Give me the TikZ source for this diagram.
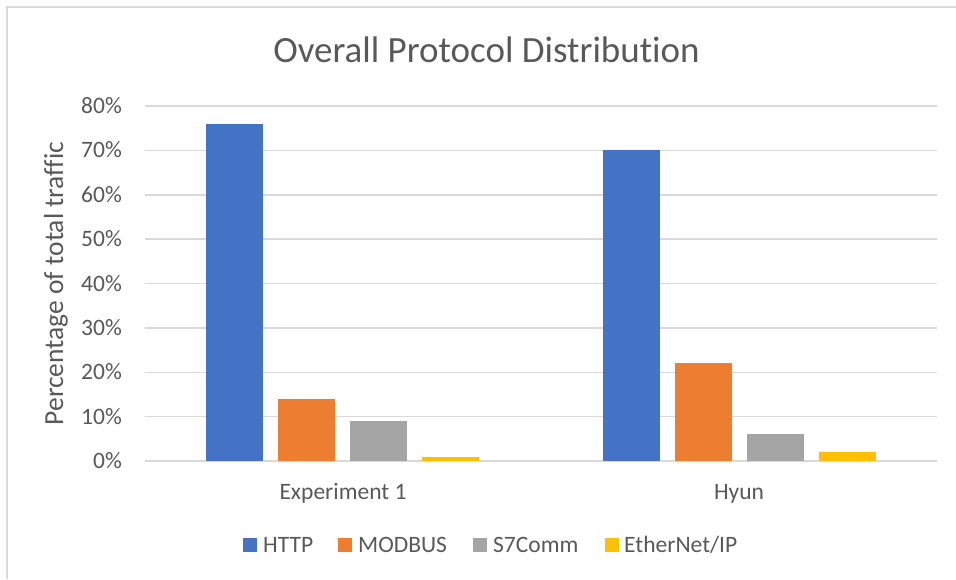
\documentclass[tikz,border=0pt]{standalone}
\usepackage{fontspec}
\setmainfont[RawFeature=-liga]{Carlito}
\definecolor{txtgray}{HTML}{595959}
\definecolor{gridgray}{HTML}{D9D9D9}
\definecolor{cHTTP}{HTML}{4472C4}
\definecolor{cMODBUS}{HTML}{ED7D31}
\definecolor{cS7}{HTML}{A5A5A5}
\definecolor{cENIP}{HTML}{FFC000}
\begin{document}
\begin{tikzpicture}[x=1pt,y=-1pt,
  lbl/.style={text=txtgray,inner sep=0pt,font=\fontsize{23.5}{28}\selectfont},
  tick/.style={lbl,anchor=base east},
  grid line/.style={draw=gridgray,line width=1.5pt},
  legendkey/.style={minimum width=14pt,minimum height=14pt,inner sep=0pt,anchor=west}]
\useasboundingbox (0,0) rectangle (956,579);
\fill[white] (0,0) rectangle (956,579);
% chart frame (top and left edges)
\draw[gridgray,line width=1.2pt] (7,579) -- (7,7) -- (956,7);
% title
\node[lbl,anchor=base,font=\fontsize{37}{44}\selectfont] (title) at (486.5,62) {Overall Protocol Distribution};
% horizontal grid, 10% = 44.375 units
\foreach \v in {0,1,...,8}{
  \pgfmathsetmacro{\yy}{461-\v*44.375}
  \draw[grid line] (145,\yy) -- (937,\yy);
}
% value labels
\node[tick] (t0) at (122,468.5) {0\%};
\foreach \v in {1,...,8}{
  \pgfmathsetmacro{\yy}{461-\v*44.375+7.5}
  \node[tick] (t\v) at (122,\yy) {\v0\%};
}
% axis title
\node[lbl,rotate=90,anchor=base,font=\fontsize{27.5}{32}\selectfont] (ytitle) at (63,283.5) {Percentage of total traffic};
% bars: #1 left edge, #2 value, #3 colour
\newcommand{\chartbar}[3]{\fill[#3] (#1,461) rectangle (#1+57,{461-#2*4.4375});}
\chartbar{206}{76}{cHTTP}
\chartbar{278}{14}{cMODBUS}
\chartbar{350}{9}{cS7}
\chartbar{422}{1}{cENIP}
\chartbar{603}{70}{cHTTP}
\chartbar{675}{22}{cMODBUS}
\chartbar{747}{6}{cS7}
\chartbar{819}{2}{cENIP}
% category labels
\node[lbl,anchor=base] (cat1) at (343,499) {Experiment 1};
\node[lbl,anchor=base] (cat2) at (739,499) {Hyun};
% legend
\node[legendkey,fill=cHTTP] (k1) at (243,545) {};
\node[lbl,anchor=base west] (l1) at (263,552) {HTTP};
\node[legendkey,fill=cMODBUS] (k2) at (338,545) {};
\node[lbl,anchor=base west] (l2) at (358,552) {MODBUS};
\node[legendkey,fill=cS7] (k3) at (473,545) {};
\node[lbl,anchor=base west] (l3) at (493,552) {S7Comm};
\node[legendkey,fill=cENIP] (k4) at (605,545) {};
\node[lbl,anchor=base west] (l4) at (624,552) {EtherNet/IP};
\end{tikzpicture}
\end{document}
